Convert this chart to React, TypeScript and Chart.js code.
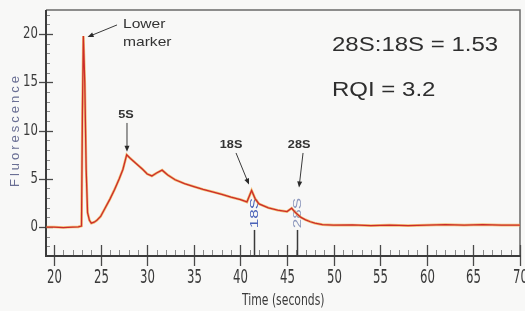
import React, { useEffect, useRef } from "react";
import { Chart, registerables } from "chart.js";

Chart.register(...registerables);

// ---- data ----
const timeSec: number[] = [
  19.2, 20, 21, 22, 22.6, 22.95, 23.05, 23.15, 23.3, 23.45, 23.6, 23.8, 24.0, 24.3, 24.6, 25.0,
  25.5, 26.0, 26.5, 27.0, 27.4, 27.8, 28.2, 28.8, 29.5, 30.0, 30.5, 31.0, 31.6, 32.2, 33.0,
  34.0, 35.0, 36.0, 37.0, 38.0, 39.0, 40.0, 40.7, 41.2, 41.6, 42.0, 43.0, 44.0, 45.0, 45.5,
  45.9, 46.5, 47.0, 47.5, 48.0, 48.8, 50, 52, 54, 56, 58, 60, 62, 64, 66, 68, 70,
];
const fluorescence: number[] = [
  0, 0, -0.05, 0, 0.02, 0.1, 12, 19.8, 15, 6, 1.5, 0.7, 0.4, 0.5, 0.7, 1.1,
  2.0, 2.9, 3.9, 5.0, 6.0, 7.5, 7.1, 6.6, 6.0, 5.5, 5.3, 5.6, 5.9, 5.4, 4.9,
  4.5, 4.2, 3.9, 3.65, 3.4, 3.1, 2.85, 2.6, 3.8, 2.9, 2.4, 2.0, 1.75, 1.6, 1.95,
  1.5, 1.0, 0.75, 0.55, 0.4, 0.25, 0.2, 0.22, 0.15, 0.2, 0.15, 0.2, 0.25, 0.2, 0.25, 0.2, 0.2,
];
const xTicks: number[] = [20, 25, 30, 35, 40, 45, 50, 55, 60, 65, 70];
const yTicks: number[] = [0, 5, 10, 15, 20];
const markerTimes: number[] = [41.5, 46.05];
const markerLabels: string[] = ["18S", "28S"];
const xTitle = "Time (seconds)";
const yTitle = "Fluorescence";
const ratioText = "28S:18S = 1.53";
const rqiText = "RQI = 3.2";

const NARROW = '"Liberation Sans Narrow", "Arial Narrow", "DejaVu Sans Condensed", sans-serif';
const SANS = '"Liberation Sans", Arial, sans-serif';

function txt(
  ctx: CanvasRenderingContext2D,
  s: string,
  x: number,
  y: number,
  font: string,
  color: string,
  sx = 1,
  sy = 1,
  align: CanvasTextAlign = "center",
  baseline: CanvasTextBaseline = "middle",
  rot = 0,
  spacing = "0px"
) {
  ctx.save();
  ctx.translate(x, y);
  if (rot) ctx.rotate(rot);
  ctx.scale(sx, sy);
  ctx.font = font;
  (ctx as any).letterSpacing = spacing;
  ctx.fillStyle = color;
  ctx.textAlign = align;
  ctx.textBaseline = baseline;
  ctx.fillText(s, 0, 0);
  ctx.restore();
}

function arrow(ctx: CanvasRenderingContext2D, x1: number, y1: number, x2: number, y2: number) {
  ctx.save();
  ctx.strokeStyle = "#3a3a3a";
  ctx.fillStyle = "#2a2a2a";
  ctx.lineWidth = 1;
  const a = Math.atan2(y2 - y1, x2 - x1);
  const h = 6;
  ctx.beginPath();
  ctx.moveTo(x1, y1);
  ctx.lineTo(x2 - Math.cos(a) * h * 0.8, y2 - Math.sin(a) * h * 0.8);
  ctx.stroke();
  ctx.beginPath();
  ctx.moveTo(x2, y2);
  ctx.lineTo(x2 - h * Math.cos(a) + 2.5 * Math.sin(a), y2 - h * Math.sin(a) - 2.5 * Math.cos(a));
  ctx.lineTo(x2 - h * Math.cos(a) - 2.5 * Math.sin(a), y2 - h * Math.sin(a) + 2.5 * Math.cos(a));
  ctx.closePath();
  ctx.fill();
  ctx.restore();
}

const decor = {
  id: "decor",
  beforeDraw(chart: any) {
    const { ctx, width, height } = chart;
    ctx.save();
    ctx.fillStyle = "#f8f8f7";
    ctx.fillRect(0, 0, width, height);
    ctx.restore();
  },
  beforeDatasetsDraw(chart: any) {
    const { ctx, chartArea: ca, scales } = chart;
    const xs = scales.x;
    const ys = scales.y;
    ctx.save();
    // frame top/right
    ctx.strokeStyle = "#6a6a6a";
    ctx.lineWidth = 1.5;
    ctx.beginPath();
    ctx.moveTo(ca.left, ca.top);
    ctx.lineTo(ca.right, ca.top);
    ctx.lineTo(ca.right, ca.bottom);
    ctx.stroke();
    // minor ticks
    ctx.strokeStyle = "#8a8a8a";
    ctx.lineWidth = 1;
    for (let v = 20; v < 70; v++) {
      if (v % 5 === 0) continue;
      const x = Math.round(xs.getPixelForValue(v)) + 0.5;
      ctx.beginPath();
      ctx.moveTo(x, ca.bottom - 6);
      ctx.lineTo(x, ca.bottom);
      ctx.stroke();
    }
    for (let v = -2; v <= 22; v++) {
      if (v % 5 === 0) continue;
      const y = Math.round(ys.getPixelForValue(v)) + 0.5;
      ctx.beginPath();
      ctx.moveTo(ca.left, y);
      ctx.lineTo(ca.left + 4, y);
      ctx.stroke();
    }
    // major ticks
    ctx.strokeStyle = "#4a4a4a";
    ctx.lineWidth = 1.3;
    xTicks.forEach((v) => {
      const x = Math.round(xs.getPixelForValue(v)) + 0.5;
      ctx.beginPath();
      ctx.moveTo(x, ca.bottom - 11);
      ctx.lineTo(x, ca.bottom + 10);
      ctx.stroke();
      txt(ctx, String(v), x, 278, "13px " + NARROW, "#3a3a3a", 1, 1.5);
    });
    yTicks.forEach((v) => {
      const y = Math.round(ys.getPixelForValue(v)) + 0.5;
      ctx.beginPath();
      ctx.moveTo(ca.left - 7, y);
      ctx.lineTo(ca.left + 7, y);
      ctx.stroke();
      txt(ctx, String(v), ca.left - 8, y, "13px " + NARROW, "#3a3a3a", 1, 1.15, "right");
    });
    // axes
    ctx.strokeStyle = "#3c3c3c";
    ctx.lineWidth = 2;
    ctx.beginPath();
    ctx.moveTo(ca.left, ca.top);
    ctx.lineTo(ca.left, ca.bottom);
    ctx.lineTo(ca.right + 1, ca.bottom);
    ctx.stroke();
    // marker lines + rotated labels
    markerTimes.forEach((t, i) => {
      const x = Math.round(xs.getPixelForValue(t)) + 0.5;
      ctx.strokeStyle = "#3a3a3a";
      ctx.lineWidth = 1.5;
      ctx.beginPath();
      ctx.moveTo(x, ys.getPixelForValue(-0.3));
      ctx.lineTo(x, ca.bottom);
      ctx.stroke();
      txt(
        ctx,
        markerLabels[i],
        x,
        ys.getPixelForValue(1.45),
        "11px " + SANS,
        i === 0 ? "#4a62b8" : "#8d98bd",
        1.55,
        1,
        "center",
        "middle",
        -Math.PI / 2
      );
    });
    // axis titles
    txt(ctx, xTitle, xs.getPixelForValue(44.6), 301, "12px " + NARROW, "#3a3a3a", 1, 1.3);
    txt(ctx, yTitle, 15, 130, "13px " + SANS, "#6a6f94", 1, 1, "center", "middle", -Math.PI / 2, "3px");
    ctx.restore();
  },
  afterDraw(chart: any) {
    const { ctx, scales } = chart;
    const X = (v: number) => scales.x.getPixelForValue(v);
    const Y = (v: number) => scales.y.getPixelForValue(v);
    const dark = "#333333";
    // Lower marker
    txt(ctx, "Lower", X(27.4), Y(20.63), "13px " + SANS, dark, 1.2, 1, "left", "alphabetic");
    txt(ctx, "marker", X(27.4), Y(18.77), "13px " + SANS, dark, 1.2, 1, "left", "alphabetic");
    arrow(ctx, X(26.76), Y(20.95), X(23.6), Y(19.7));
    // 5S
    txt(ctx, "5S", X(27.72), Y(11.3), "bold 11px " + SANS, dark, 1.15, 1, "center", "alphabetic");
    arrow(ctx, X(27.83), Y(10.79), X(27.83), Y(7.8));
    // 18S
    txt(ctx, "18S", X(39.0), Y(8.2), "bold 11px " + SANS, dark, 1.15, 1, "center", "alphabetic");
    arrow(ctx, X(39.53), Y(7.68), X(40.92), Y(4.4));
    // 28S
    txt(ctx, "28S", X(46.3), Y(8.2), "bold 11px " + SANS, dark, 1.15, 1, "center", "alphabetic");
    arrow(ctx, X(46.72), Y(7.68), X(46.29), Y(4.1));
    // ratios
    txt(ctx, ratioText, X(49.83), Y(18.3), "20px " + SANS, "#2e2e2e", 1.2, 1, "left", "alphabetic");
    txt(ctx, rqiText, X(49.83), Y(13.55), "20px " + SANS, "#2e2e2e", 1.2, 1, "left", "alphabetic");
  },
};

export default function App() {
  const ref = useRef<HTMLCanvasElement | null>(null);
  useEffect(() => {
    if (!ref.current) return;
    const pts = timeSec.map((t, i) => ({ x: t, y: fluorescence[i] }));
    const chart = new Chart(ref.current, {
      type: "line",
      data: {
        datasets: [
          {
            label: "trace",
            data: pts,
            borderColor: "#cc2b2b",
            borderWidth: 1.3,
            pointRadius: 0,
            tension: 0,
            order: 0,
          },
          {
            label: "trace (underlay)",
            data: pts,
            borderColor: "rgba(240,175,80,0.8)",
            borderWidth: 2.6,
            pointRadius: 0,
            tension: 0,
            order: 1,
          },
        ],
      },
      options: {
        responsive: false,
        animation: false,
        layout: { padding: { left: 46, top: 10, right: 5, bottom: 55 } },
        plugins: { legend: { display: false }, tooltip: { enabled: false } },
        scales: {
          x: { type: "linear", min: 19.14, max: 70, display: false },
          y: { type: "linear", min: -3, max: 22.5, display: false },
        },
      },
      plugins: [decor],
    });
    return () => chart.destroy();
  }, []);
  return (
    <div style={{ position: "fixed", left: 0, top: 0, width: 525, height: 311 }}>
      <canvas ref={ref} width={525} height={311} style={{ width: 525, height: 311 }} />
    </div>
  );
}
